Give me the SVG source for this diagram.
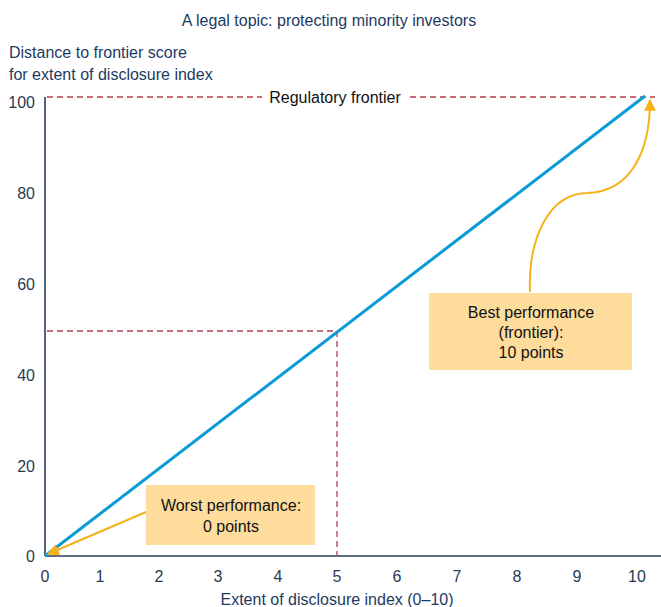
<svg xmlns="http://www.w3.org/2000/svg" width="661" height="607" viewBox="0 0 661 607">
<style>
text{font-family:"Liberation Sans Narrow","Liberation Sans",Arial,sans-serif}
.t{fill:#1d3a63;font-size:16px}
.tk{fill:#2a3a52;font-size:16px}
.bx{fill:#fddc9c}
.bt{fill:#111;font-size:16px;text-anchor:middle}
.dash{stroke:#b5404e;stroke-width:1.3;stroke-dasharray:6 4;fill:none}
.ax{stroke:#2b3a55;stroke-width:1.6;fill:none}
.or{stroke:#f6b21b;stroke-width:2;fill:none}
</style>
<defs>
<marker id="ah" viewBox="0 0 10 10" refX="9" refY="5" markerWidth="5" markerHeight="5" orient="auto" markerUnits="userSpaceOnUse">
<path d="M0,0 L10,5 L0,10 z" fill="#f6b21b"/>
</marker>
<marker id="ah2" viewBox="0 0 10 10" refX="9" refY="5" markerWidth="12" markerHeight="12" orient="auto" markerUnits="userSpaceOnUse">
<path d="M0,0 L10,5 L0,10 z" fill="#f6b21b"/>
</marker>
</defs>
<text class="t" x="329" y="26" text-anchor="middle">A legal topic: protecting minority investors</text>
<text class="t" x="9" y="58">Distance to frontier score</text>
<text class="t" x="9" y="80">for extent of disclosure index</text>
<g id="axes">
<line class="ax" x1="45" y1="97" x2="45" y2="556"/>
<line class="ax" x1="45" y1="556" x2="661" y2="556"/>
</g>
<g id="yticks" class="tk" text-anchor="end">
<text x="35" y="108">100</text>
<text x="35" y="199">80</text>
<text x="35" y="290">60</text>
<text x="35" y="381">40</text>
<text x="35" y="472">20</text>
<text x="35" y="562">0</text>
</g>
<g id="xticks" class="tk" text-anchor="middle">
<text x="45" y="582">0</text>
<text x="100" y="582">1</text>
<text x="159" y="582">2</text>
<text x="218" y="582">3</text>
<text x="278" y="582">4</text>
<text x="337" y="582">5</text>
<text x="397" y="582">6</text>
<text x="457" y="582">7</text>
<text x="517" y="582">8</text>
<text x="577" y="582">9</text>
<text x="637" y="582">10</text>
</g>
<text class="t" x="337" y="605" text-anchor="middle">Extent of disclosure index (0–10)</text>
<g id="frontier">
<line class="dash" x1="47" y1="97" x2="262" y2="97"/>
<line class="dash" x1="410" y1="97" x2="655" y2="97"/>
<text x="335" y="103" text-anchor="middle" style="font-size:16px;fill:#111">Regulatory frontier</text>
</g>
<g id="guides">
<line class="dash" x1="47" y1="331" x2="337" y2="331"/>
<line class="dash" x1="337" y1="331" x2="337" y2="555"/>
</g>
<g id="connectors">
<line x1="45" y1="556" x2="645" y2="96" stroke="#0a9bd7" stroke-width="3"/>
<path class="or" d="M146,512 L48,554" marker-end="url(#ah2)"/>
<path class="or" d="M530,292 C528,240 548,193 588,193 C632,191 650,150 650,100" marker-end="url(#ah2)"/>
</g>
<g id="worst">
<rect class="bx" x="146" y="485" width="169" height="60"/>
<text class="bt" x="231" y="511">Worst performance:</text>
<text class="bt" x="231" y="532">0 points</text>
</g>
<g id="best">
<rect class="bx" x="429" y="293" width="203" height="77"/>
<text class="bt" x="531" y="318">Best performance</text>
<text class="bt" x="531" y="338">(frontier):</text>
<text class="bt" x="531" y="358">10 points</text>
</g>
</svg>
